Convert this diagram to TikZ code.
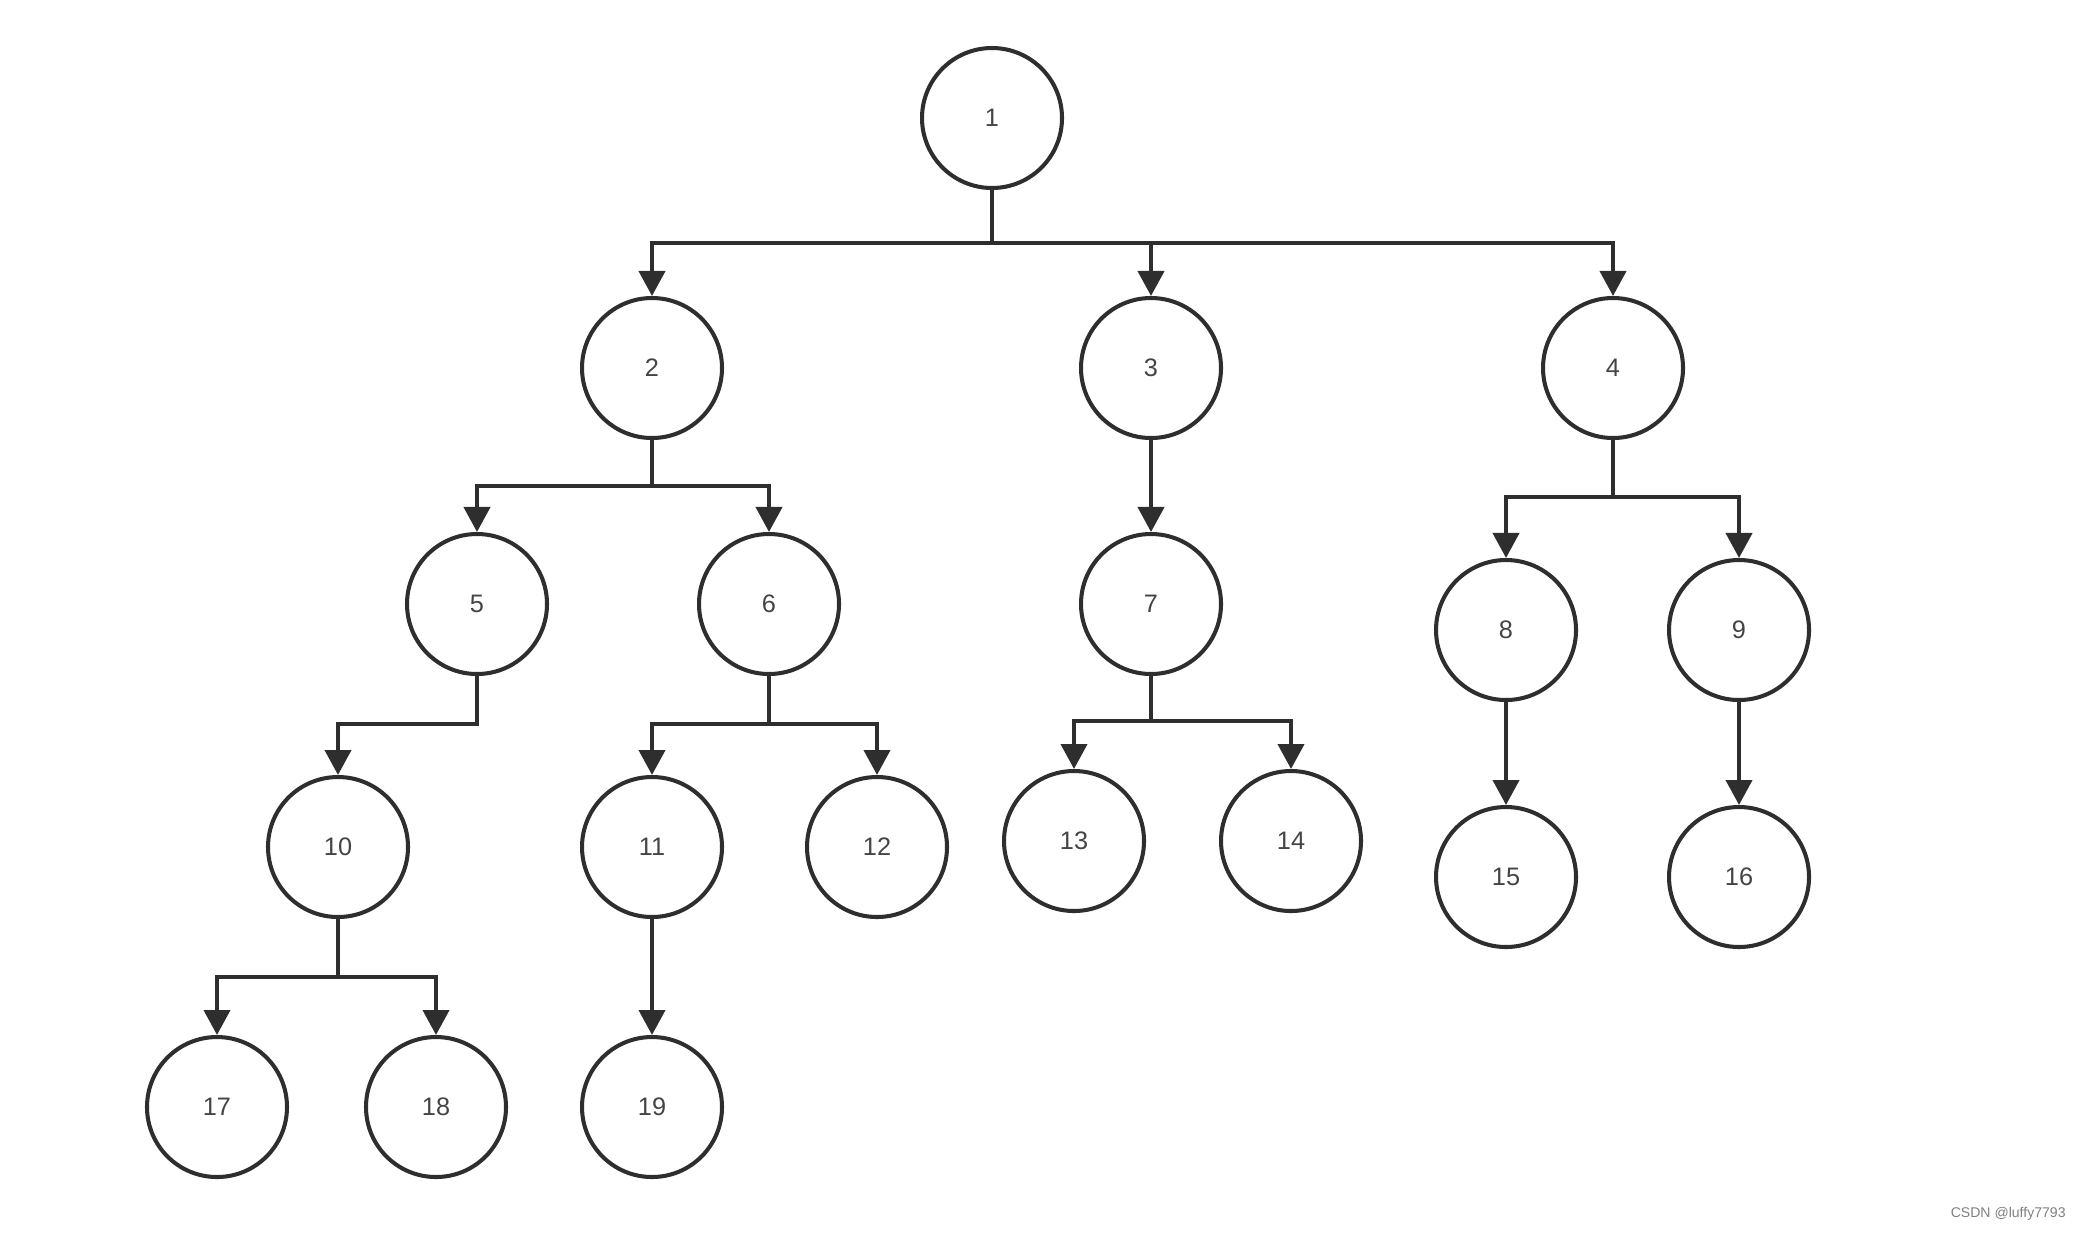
\documentclass[tikz,border=0pt]{standalone}
\usepackage{fontspec}
\setmainfont{Liberation Sans}
\usetikzlibrary{arrows.meta}
\definecolor{ln}{HTML}{2E2E2E}
\definecolor{tx}{HTML}{444444}
\begin{document}
\begin{tikzpicture}[nd/.style={draw=ln, circle, line width=1.15pt, minimum size=1.4cm, inner sep=0pt, text=tx, font=\fontsize{7.2pt}{8pt}\selectfont},
    arr/.style={draw=ln, line width=1.15pt, -{Triangle[length=2.5mm,width=2.6mm]}}]
    \useasboundingbox (0,0) rectangle (20.94,-12.32);
    \node[nd] (n1) at (9.92,-1.18) {1};
    \node[nd] (n2) at (6.52,-3.68) {2};
    \node[nd] (n3) at (11.51,-3.68) {3};
    \node[nd] (n4) at (16.13,-3.68) {4};
    \node[nd] (n5) at (4.77,-6.04) {5};
    \node[nd] (n6) at (7.69,-6.04) {6};
    \node[nd] (n7) at (11.51,-6.04) {7};
    \node[nd] (n8) at (15.06,-6.30) {8};
    \node[nd] (n9) at (17.39,-6.30) {9};
    \node[nd] (n10) at (3.38,-8.47) {10};
    \node[nd] (n11) at (6.52,-8.47) {11};
    \node[nd] (n12) at (8.77,-8.47) {12};
    \node[nd] (n13) at (10.74,-8.41) {13};
    \node[nd] (n14) at (12.91,-8.41) {14};
    \node[nd] (n15) at (15.06,-8.77) {15};
    \node[nd] (n16) at (17.39,-8.77) {16};
    \node[nd] (n17) at (2.17,-11.07) {17};
    \node[nd] (n18) at (4.36,-11.07) {18};
    \node[nd] (n19) at (6.52,-11.07) {19};
    % bus levels below the parents
    \coordinate (b1) at (9.92,-2.43);
    \coordinate (b2) at (6.52,-4.86);
    \coordinate (b4) at (16.13,-4.97);
    \coordinate (b5) at (4.77,-7.24);
    \coordinate (b6) at (7.69,-7.24);
    \coordinate (b7) at (11.51,-7.21);
    \coordinate (b10) at (3.38,-9.77);
    \draw[arr] (n1.south) -- (b1) -| (n2.north);
    \draw[arr] (n1.south) -- (b1) -| (n3.north);
    \draw[arr] (n1.south) -- (b1) -| (n4.north);
    \draw[arr] (n2.south) -- (b2) -| (n5.north);
    \draw[arr] (n2.south) -- (b2) -| (n6.north);
    \draw[arr] (n3) -- (n7);
    \draw[arr] (n4.south) -- (b4) -| (n8.north);
    \draw[arr] (n4.south) -- (b4) -| (n9.north);
    \draw[arr] (n5.south) -- (b5) -| (n10.north);
    \draw[arr] (n6.south) -- (b6) -| (n11.north);
    \draw[arr] (n6.south) -- (b6) -| (n12.north);
    \draw[arr] (n7.south) -- (b7) -| (n13.north);
    \draw[arr] (n7.south) -- (b7) -| (n14.north);
    \draw[arr] (n8) -- (n15);
    \draw[arr] (n9) -- (n16);
    \draw[arr] (n10.south) -- (b10) -| (n17.north);
    \draw[arr] (n10.south) -- (b10) -| (n18.north);
    \draw[arr] (n11) -- (n19);
    \node[anchor=east, text=gray, font=\fontsize{4pt}{5pt}\selectfont] (mark) at (20.78,-12.14) {CSDN @luffy7793};
  \end{tikzpicture}
\end{document}
